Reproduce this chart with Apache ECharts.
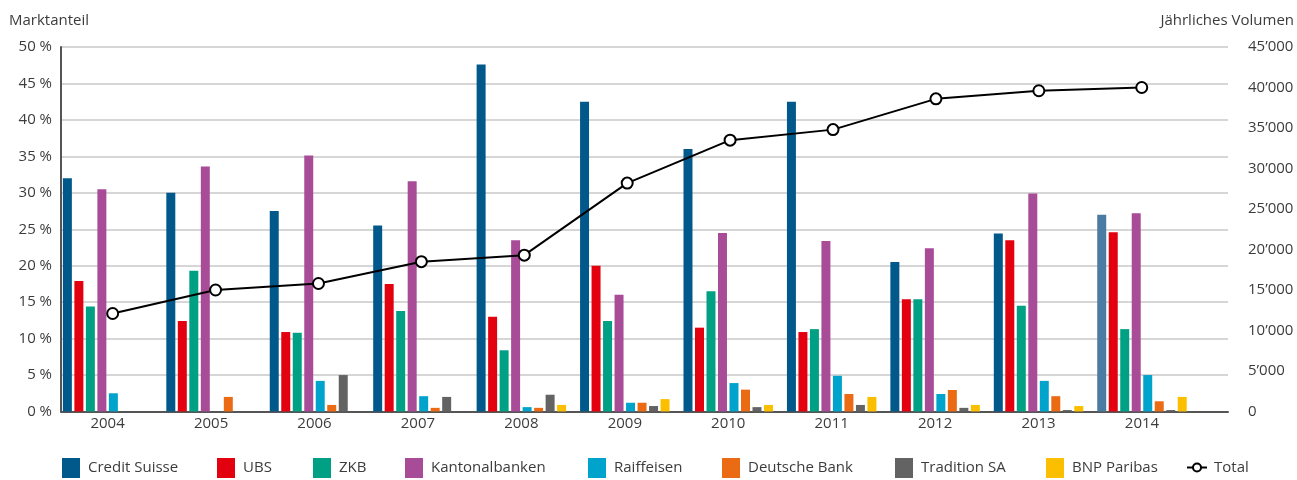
<!DOCTYPE html>
<html style="height: 100%">
 <head>
  <meta charset="utf-8" />
  <script type="text/javascript" src="https://cdn.jsdelivr.net/npm/echarts@6/dist/echarts.min.js"></script>
 </head>
 <body style="height: 100%; margin: 0">
  <div id="main" style="width:1297px;height:480px;background:#fff;"></div>
  <script type="text/javascript">
   // Marktanteil in %, Volumen absolut
   var years = ['2004', '2005', '2006', '2007', '2008', '2009', '2010', '2011', '2012', '2013', '2014'];
   var creditSuisse = [32.0, 30.0, 27.5, 25.5, 47.6, 42.5, 36.0, 42.5, 20.5, 24.4, 27.0];
   var ubs = [17.9, 12.4, 10.9, 17.5, 13.0, 20.0, 11.5, 10.9, 15.4, 23.5, 24.6];
   var zkb = [14.4, 19.3, 10.8, 13.8, 8.4, 12.4, 16.5, 11.3, 15.4, 14.5, 11.3];
   var kantonalbanken = [30.5, 33.6, 35.1, 31.6, 23.5, 16.0, 24.5, 23.4, 22.4, 29.9, 27.2];
   var raiffeisen = [2.5, 0, 4.2, 2.1, 0.6, 1.2, 3.9, 4.9, 2.4, 4.2, 5.0];
   var deutscheBank = [0, 2.0, 0.9, 0.5, 0.5, 1.2, 3.0, 2.4, 2.95, 2.1, 1.4];
   var traditionSA = [0, 0, 5.0, 2.0, 2.3, 0.75, 0.6, 0.9, 0.5, 0.2, 0.2];
   var bnpParibas = [0, 0, 0, 0, 0.9, 1.7, 0.9, 2.0, 0.9, 0.75, 2.0];
   var total = [12100, 15000, 15800, 18500, 19300, 28200, 33500, 34800, 38600, 39600, 40000];

   var leftTicks = ['0 %', '5 %', '10 %', '15 %', '20 %', '25 %', '30 %', '35 %', '40 %', '45 %', '50 %'];
   var rightTicks = ['0', '5’000', '10’000', '15’000', '20’000', '25’000', '30’000', '35’000', '40’000', '45’000'];

   var font = 'Open Sans';
   var txt = '#3c3c3c';

   var banks = [
     { name: 'Credit Suisse', data: creditSuisse, color: '#00598a', left: 62 },
     { name: 'UBS', data: ubs, color: '#e3000f', left: 217 },
     { name: 'ZKB', data: zkb, color: '#00a085', left: 313 },
     { name: 'Kantonalbanken', data: kantonalbanken, color: '#a84c98', left: 405 },
     { name: 'Raiffeisen', data: raiffeisen, color: '#00a3cc', left: 588 },
     { name: 'Deutsche Bank', data: deutscheBank, color: '#eb6a14', left: 722 },
     { name: 'Tradition SA', data: traditionSA, color: '#636363', left: 895 },
     { name: 'BNP Paribas', data: bnpParibas, color: '#fbbf00', left: 1046 }
   ];

   var myChart = echarts.init(document.getElementById('main'));

   var series = banks.map(function (b) {
     var data = b.data.slice();
     if (b.name === 'Credit Suisse') {
       // 2014 in hellerem Blau
       data[data.length - 1] = { value: data[data.length - 1], itemStyle: { color: '#4a7ba0' } };
     }
     return {
       name: b.name,
       type: 'bar',
       xAxisIndex: 1,
       yAxisIndex: 2,
       barCategoryGap: '13.5%',
       barGap: '28%',
       itemStyle: { color: b.color },
       data: data
     };
   });
   series.push({
     name: 'Total',
     type: 'line',
     xAxisIndex: 2,
     yAxisIndex: 3,
     symbol: 'circle',
     symbolSize: 11,
     z: 5,
     lineStyle: { color: '#000', width: 2 },
     itemStyle: { color: '#fff', borderColor: '#000', borderWidth: 2 },
     data: total
   });

   var legends = banks.map(function (b) {
     return {
       data: [b.name],
       left: b.left,
       top: 458,
       padding: 0,
       itemWidth: 18,
       itemHeight: 20,
       icon: 'rect',
       textStyle: { fontFamily: font, fontSize: 15, color: txt, padding: [0, 0, 0, 3] }
     };
   });
   legends.push({
     data: ['Total'],
     left: 1186,
     top: 460,
     padding: 0,
     itemWidth: 20,
     itemHeight: 10,
     textStyle: { fontFamily: font, fontSize: 15, color: txt, padding: [0, 0, 0, 2] }
   });

   var option = {
     animation: false,
     title: [
       { text: 'Marktanteil', left: 9, top: 13, padding: 0,
         textStyle: { fontFamily: font, fontSize: 15, fontWeight: 'normal', color: txt } },
       { text: 'Jährliches Volumen', right: 3, top: 13, padding: 0,
         textStyle: { fontFamily: font, fontSize: 15, fontWeight: 'normal', color: txt } }
     ],
     legend: legends,
     grid: [
       { left: 61, right: 69, top: 47, bottom: 68.5 },
       { left: 55.9, width: 1137.8, top: 47, bottom: 68.5 },
       { left: 61.2, width: 1132, top: 47, bottom: 68.5 }
     ],
     xAxis: [
       { gridIndex: 0, type: 'value', min: 0, max: 1,
         axisLine: { show: true, onZero: false, lineStyle: { color: '#555', width: 2 } },
         axisTick: { show: false }, axisLabel: { show: false }, splitLine: { show: false } },
       { gridIndex: 1, type: 'category', data: years,
         axisLine: { show: false }, axisTick: { show: false },
         axisLabel: { margin: 5, fontFamily: font, fontSize: 15, color: txt } },
       { gridIndex: 2, type: 'category', data: years, show: false }
     ],
     yAxis: [
       { gridIndex: 0, type: 'value', min: 0, max: 50, interval: 5,
         axisLine: { show: true, lineStyle: { color: '#555', width: 2 } },
         axisTick: { show: false },
         splitLine: { lineStyle: { color: '#c8c8c8', width: 1.5 } },
         axisLabel: { margin: 9, fontFamily: font, fontSize: 15, color: txt, padding: [0, 0, 8, 0],
           formatter: function (v) { return leftTicks[Math.round(v / 5)]; } } },
       { gridIndex: 0, type: 'value', min: 0, max: 45000, interval: 5000, position: 'right',
         axisLine: { show: false }, axisTick: { show: false }, splitLine: { show: false },
         axisLabel: { margin: 20, fontFamily: font, fontSize: 15, color: txt, padding: [0, 0, 8, 0],
           formatter: function (v) { return rightTicks[Math.round(v / 5000)]; } } },
       { gridIndex: 1, type: 'value', min: 0, max: 50, show: false },
       { gridIndex: 2, type: 'value', min: 0, max: 45000, show: false }
     ],
     series: series
   };

   myChart.setOption(option);
  </script>
 </body>
</html>
